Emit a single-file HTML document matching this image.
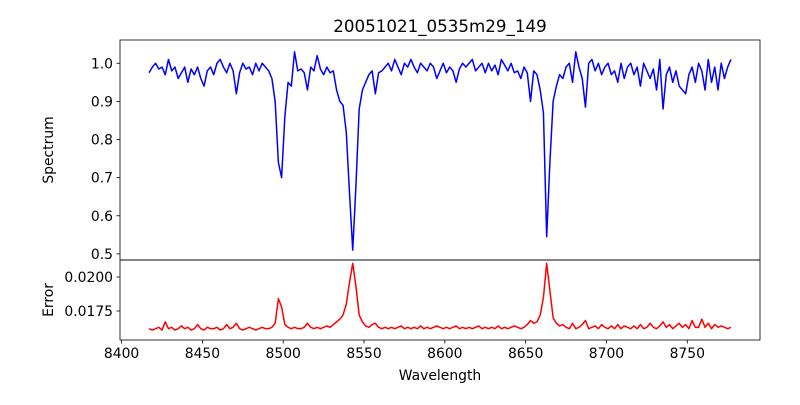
<!DOCTYPE html>
<html><head><meta charset="utf-8"><style>
html,body{margin:0;padding:0;background:#fff;}
svg text{font-family:"DejaVu Sans","Liberation Sans",sans-serif;fill:#000;}
</style></head><body>
<svg id="chart" width="800" height="400" viewBox="0 0 800 400" xmlns="http://www.w3.org/2000/svg">
<rect width="800" height="400" fill="#fff"/>
<text x="440" y="32" font-size="16.7" text-anchor="middle">20051021_0535m29_149</text>
<g id="top"></g>
<g id="bot"></g>
<text x="440" y="380" font-size="13.9" text-anchor="middle">Wavelength</text>
<text transform="translate(53,150) rotate(-90)" font-size="13.9" text-anchor="middle">Spectrum</text>
<text transform="translate(53,300) rotate(-90)" font-size="13.9" text-anchor="middle">Error</text>
</svg>
<script>
const startWave = 8417;
const stepWave = 2;
const spectrum = [
0.975,0.99,1.0,0.985,0.99,0.97,1.01,0.98,0.99,0.96,
0.975,0.99,0.95,0.985,0.97,0.99,0.96,0.94,0.98,0.99,
0.97,1.0,1.01,0.99,0.975,1.0,0.98,0.92,0.975,1.0,
0.985,0.99,0.97,1.0,0.98,1.0,0.99,0.98,0.96,0.90,
0.74,0.70,0.86,0.95,0.94,1.03,0.98,0.985,0.975,0.93,
0.99,0.98,1.02,0.985,0.97,0.99,0.975,0.98,0.93,0.90,
0.89,0.82,0.66,0.51,0.68,0.88,0.93,0.95,0.97,0.98,
0.92,0.975,0.98,0.99,1.0,0.98,1.01,0.99,0.97,1.0,
0.99,1.01,0.99,0.975,1.0,0.99,0.98,1.0,0.99,0.96,
0.98,1.0,0.975,0.99,0.98,0.95,0.985,1.0,0.99,1.0,
1.01,0.98,0.99,1.0,0.975,1.0,0.98,0.995,0.97,1.01,
0.995,0.98,1.0,0.975,0.98,0.96,0.99,0.975,0.90,0.98,
0.97,0.93,0.87,0.545,0.74,0.90,0.94,0.97,0.96,0.99,
1.0,0.95,1.03,0.99,0.96,0.885,1.0,1.01,0.98,1.0,
0.97,0.99,1.0,0.97,0.98,0.95,1.0,0.96,0.99,1.0,
0.97,0.99,0.94,1.0,0.98,0.96,0.985,0.93,1.01,0.88,
0.97,0.99,0.95,0.98,0.94,0.93,0.92,0.97,0.99,0.95,
1.0,0.98,0.93,1.01,0.95,0.99,0.93,1.0,0.96,0.99,
1.01];
const errors = [
0.0162,0.0161,0.0162,0.0163,0.0161,0.0167,0.0162,0.0163,0.0161,0.0162,
0.0164,0.0162,0.0163,0.0161,0.0162,0.0165,0.0162,0.0161,0.0163,0.0162,
0.0162,0.0163,0.0161,0.0162,0.0165,0.0162,0.0163,0.0166,0.0162,0.0161,
0.0162,0.0163,0.0162,0.0161,0.0162,0.0163,0.0162,0.0162,0.0163,0.0166,
0.0184,0.0178,0.0165,0.0163,0.0162,0.0163,0.0162,0.0162,0.0163,0.0166,
0.0163,0.0162,0.0163,0.0162,0.0163,0.0164,0.0163,0.0165,0.0167,0.0169,
0.0172,0.0180,0.0196,0.0210,0.0193,0.0172,0.0167,0.0164,0.0163,0.0165,
0.0166,0.0163,0.0162,0.0163,0.0162,0.0163,0.0162,0.0163,0.0164,0.0162,
0.0163,0.0162,0.0163,0.0162,0.0164,0.0162,0.0163,0.0162,0.0163,0.0164,
0.0163,0.0162,0.0163,0.0162,0.0163,0.0164,0.0162,0.0163,0.0162,0.0163,
0.0162,0.0163,0.0164,0.0162,0.0163,0.0162,0.0163,0.0162,0.0164,0.0162,
0.0163,0.0162,0.0163,0.0164,0.0163,0.0162,0.0163,0.0165,0.0168,0.0166,
0.0167,0.0172,0.0185,0.0210,0.0190,0.0170,0.0166,0.0164,0.0165,0.0163,
0.0162,0.0166,0.0162,0.0163,0.0165,0.0168,0.0162,0.0163,0.0164,0.0162,
0.0165,0.0163,0.0162,0.0164,0.0162,0.0165,0.0162,0.0164,0.0163,0.0162,
0.0164,0.0162,0.0165,0.0162,0.0163,0.0166,0.0163,0.0162,0.0164,0.0167,
0.0163,0.0165,0.0162,0.0164,0.0166,0.0163,0.0165,0.0162,0.0168,0.0163,
0.0163,0.0169,0.0163,0.0166,0.0162,0.0165,0.0163,0.0164,0.0163,0.0162,
0.0163];
const xTicks = [8400,8450,8500,8550,8600,8650,8700,8750];
const specTicks = [0.5,0.6,0.7,0.8,0.9,1.0];
const specTickLabels = ["0.5","0.6","0.7","0.8","0.9","1.0"];
const errTicks = [0.0175,0.0200];
const errTickLabels = ["0.0175","0.0200"];

const NS = "http://www.w3.org/2000/svg";
const L = 120, R = 760;
const xMin = 8399, xMax = 8795;
const x = v => L + (v - xMin) / (xMax - xMin) * (R - L);
const T1 = 40, B1 = 260, yMin1 = 0.484, yMax1 = 1.061;
const y1 = v => B1 - (v - yMin1) / (yMax1 - yMin1) * (B1 - T1);
const T2 = 260, B2 = 340, yMin2 = 0.015368, yMax2 = 0.02125;
const y2 = v => B2 - (v - yMin2) / (yMax2 - yMin2) * (B2 - T2);

function mk(tag, attrs, parent){ const e=document.createElementNS(NS,tag); for(const k in attrs) e.setAttribute(k,attrs[k]); parent.appendChild(e); return e; }

function panel(g, vals, yf, T, B, ticks, labels, color, showX, nm){
  const pts = vals.map((v,i)=> x(startWave+i*stepWave).toFixed(2)+","+yf(v).toFixed(2)).join(" ");
  const line = mk("polyline",{points:pts,fill:"none",stroke:color,"stroke-width":1.5,"stroke-linejoin":"round"},g);
  
  
  ticks.forEach((t,i)=>{
    const yy=yf(t);
    const tk=mk("line",{x1:L-3.5,x2:L,y1:yy,y2:yy,stroke:"#000","stroke-width":0.8},g);
    
    
    const tx=mk("text",{x:L-7,y:yy+5,"font-size":13.9,"text-anchor":"end"},g);
    tx.textContent=labels[i];
    
    
  });
  if(showX){
    xTicks.forEach(t=>{
      const xx=x(t);
      const tk=mk("line",{x1:xx,x2:xx,y1:B,y2:B+3.5,stroke:"#000","stroke-width":0.8},g);
      
      
      const tx=mk("text",{x:xx,y:B+18,"font-size":13.9,"text-anchor":"middle"},g);
      tx.textContent=String(t);
      
      
    });
  }
  const fr=mk("rect",{x:L,y:T,width:R-L,height:B-T,fill:"none",stroke:"#000","stroke-width":0.8},g);
  
  
}
panel(document.getElementById("top"), spectrum, y1, T1, B1, specTicks, specTickLabels, "#0000ff", false, "spectrum");
panel(document.getElementById("bot"), errors, y2, T2, B2, errTicks, errTickLabels, "#ff0000", true, "error");
</script>
</body></html>
